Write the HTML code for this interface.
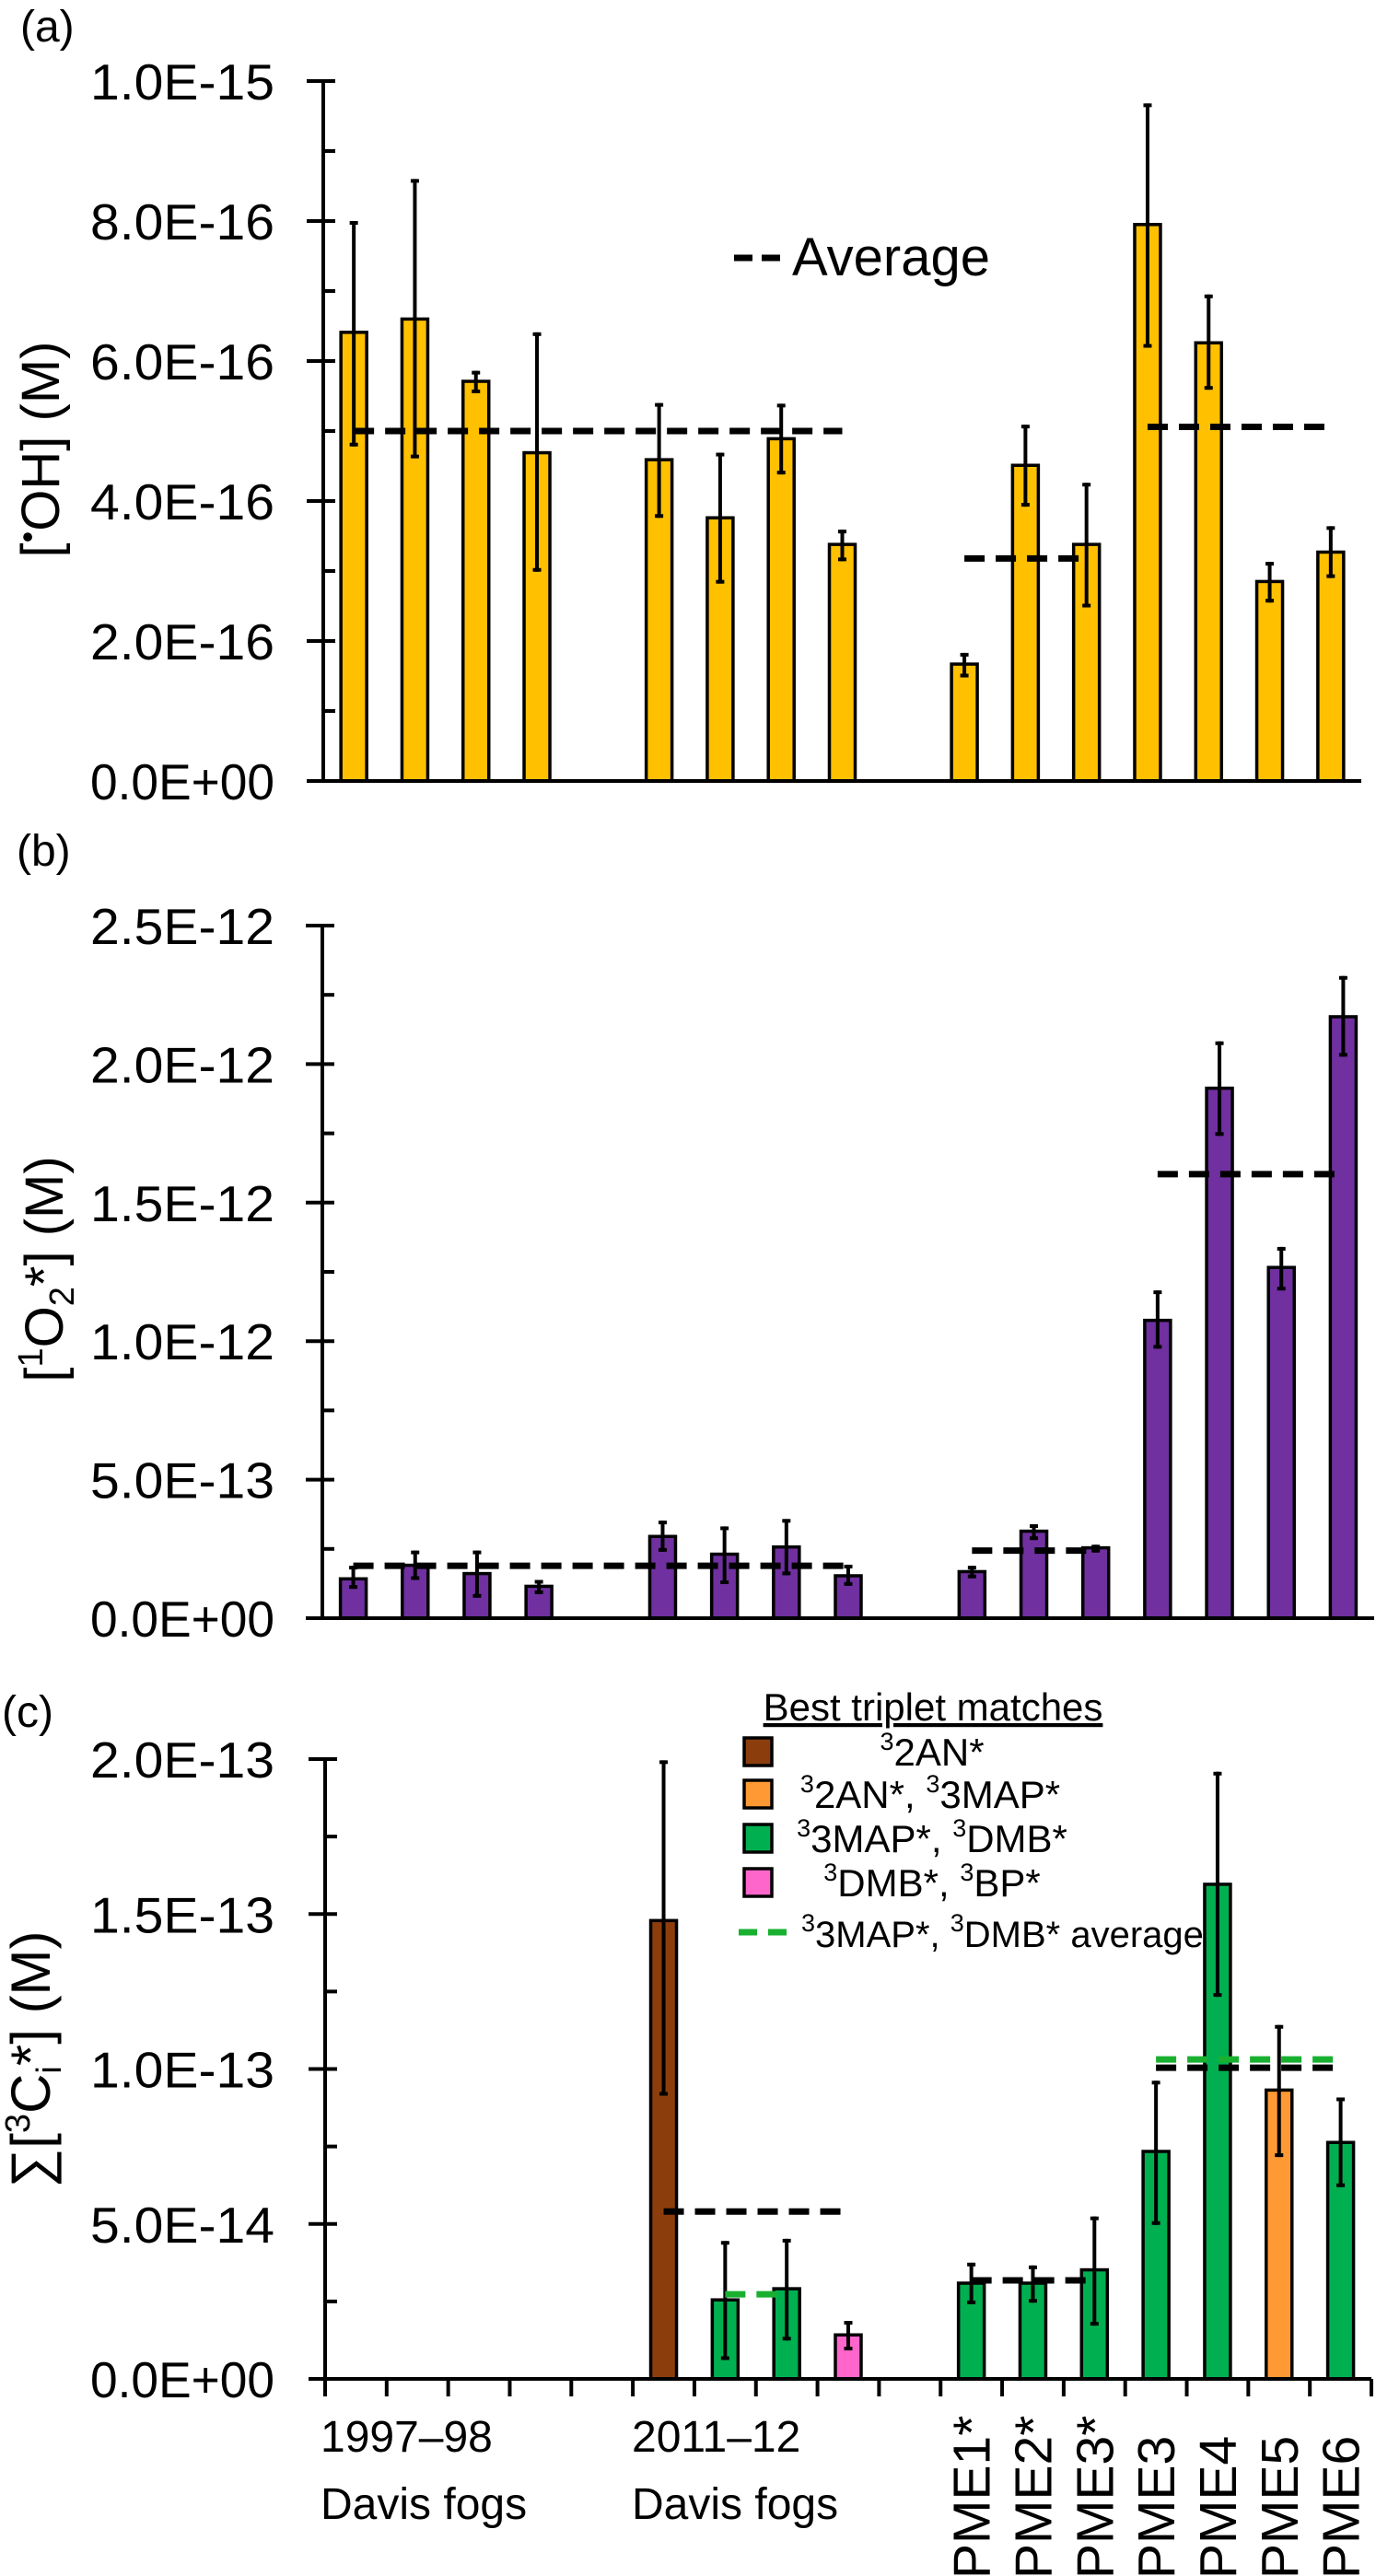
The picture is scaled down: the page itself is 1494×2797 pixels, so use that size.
<!DOCTYPE html>
<html><head><meta charset="utf-8"><style>
html,body{margin:0;padding:0;background:#fff;}
svg{display:block;font-family:"Liberation Sans",sans-serif;}
</style></head>
<body>
<svg id="chart" width="1494" height="2797" viewBox="0 0 1494 2797" xmlns="http://www.w3.org/2000/svg"></svg>
<script>
// ---- data ----
const slotsCount = 17;
const ohValues = [0.641,0.660,0.571,0.469,null,0.459,0.376,0.489,0.338,null,0.167,0.451,0.338,0.795,0.626,0.285,0.327];
const ohErrHi  = [0.800,0.860,0.586,0.641,null,0.540,0.469,0.539,0.359,null,0.183,0.509,0.426,0.968,0.695,0.313,0.364];
const ohErrLo  = [0.478,0.461,0.554,0.299,null,0.376,0.282,0.438,0.314,null,0.148,0.392,0.248,0.619,0.559,0.255,0.290];
const ohAvgSpans = [[0,8],[10,12],[13,16]];
const ohAvgValues = [0.500,0.318,0.506];
const ohTicks = ["0.0E+00","2.0E-16","4.0E-16","6.0E-16","8.0E-16","1.0E-15"];
const o2Values = [0.142,0.191,0.161,0.115,null,0.295,0.231,0.257,0.153,null,0.168,0.314,0.254,1.075,1.913,1.266,2.171];
const o2ErrHi  = [0.189,0.244,0.244,0.138,null,0.352,0.331,0.358,0.193,null,0.189,0.339,0.265,1.183,2.082,1.340,2.318];
const o2ErrLo  = [0.106,0.138,0.074,0.087,null,0.240,0.123,0.155,0.117,null,0.144,0.282,0.237,0.973,1.741,1.183,2.027];
const o2AvgSpans = [[0,8],[10,12],[13,16]];
const o2AvgValues = [0.189,0.244,1.603];
const o2Ticks = ["0.0E+00","5.0E-13","1.0E-12","1.5E-12","2.0E-12","2.5E-12"];
const tcValues = [null,null,null,null,null,1.479,0.255,0.291,0.142,null,0.309,0.309,0.352,0.734,1.596,0.932,0.763];
const tcErrHi  = [null,null,null,null,null,1.996,0.445,0.452,0.187,null,0.375,0.366,0.524,0.962,1.959,1.142,0.908];
const tcErrLo  = [null,null,null,null,null,0.914,0.061,0.124,0.092,null,0.241,0.246,0.172,0.497,1.233,0.716,0.619];
const tcClass  = [null,null,null,null,null,"2AN","3MAP","3MAP","DMB",null,"3MAP","3MAP","3MAP","3MAP","3MAP","2AN3MAP","3MAP"];
const tcAvgSpans = [[5,8],[10,12],[13,16]];
const tcAvgValues = [0.540,0.318,1.004];
const tcGreenAvgSpans = [[6,7],[13,16]];
const tcGreenAvgValues = [0.273,1.031];
const tcTicks = ["0.0E+00","5.0E-14","1.0E-13","1.5E-13","2.0E-13"];
const classColors = {"2AN":"#8B3E0C","2AN3MAP":"#FF9933","3MAP":"#00B050","DMB":"#FF66CC"};

const NS="http://www.w3.org/2000/svg";
const svg=document.getElementById('chart');
function mk(tag,attrs,parent){const e=document.createElementNS(NS,tag);for(const k in attrs)e.setAttribute(k,attrs[k]);(parent||svg).appendChild(e);return e;}

function panel(cfg){
  const g=mk('g',{});
  
  
  const sw=(cfg.x1-cfg.x0)/slotsCount;
  const xc=i=>cfg.x0+sw*(i+0.5);
  const y=v=>cfg.yb-(v/cfg.max)*(cfg.yb-cfg.yt);
  for(let i=0;i<slotsCount;i++){
    const v=cfg.values[i]; if(v==null)continue;
    const fill=cfg.colors?classColors[cfg.colors[i]]:cfg.fill;
    const r=mk('rect',{x:xc(i)-14,y:y(v),width:28,height:cfg.yb-y(v),fill:fill,stroke:'#000','stroke-width':3.5},g);
    
    
  }
  for(let i=0;i<slotsCount;i++){
    if(cfg.values[i]==null)continue;
    const eg=mk('g',{stroke:'#000','stroke-width':4},g);
    
    
    const x=xc(i),yh=y(cfg.hi[i]),yl=y(cfg.lo[i]);
    mk('line',{x1:x,x2:x,y1:yh,y2:yl},eg);
    mk('line',{x1:x-4.5,x2:x+4.5,y1:yh+2,y2:yh+2},eg);
    mk('line',{x1:x-4.5,x2:x+4.5,y1:yl-2,y2:yl-2},eg);
  }
  cfg.avgSpans.forEach((s,k)=>{
    const l=mk('line',{x1:xc(s[0]),x2:xc(s[1]),y1:y(cfg.avgValues[k]),y2:y(cfg.avgValues[k]),stroke:'#000','stroke-width':7,'stroke-dasharray':'22 12'},g);
    
    
  });
  if(cfg.greenSpans){cfg.greenSpans.forEach((s,k)=>{
    const l=mk('line',{x1:xc(s[0]),x2:xc(s[1]),y1:y(cfg.greenValues[k]),y2:y(cfg.greenValues[k]),stroke:'#19B030','stroke-width':7,'stroke-dasharray':'22 12'},g);
    
    
  });}
  const ax=mk('g',{stroke:'#000','stroke-width':4},g);
  
  
  mk('line',{x1:cfg.x0,x2:cfg.x0,y1:cfg.yt,y2:cfg.yb},ax);
  const nMaj=cfg.ticks.length-1;
  for(let k=0;k<=nMaj;k++){
    const v=cfg.max*k/nMaj, yy=y(v);
    mk('line',{x1:cfg.x0-18,x2:cfg.x0+13,y1:yy,y2:yy},ax);
    if(k<nMaj){const ym=y(v+cfg.max/nMaj/2);mk('line',{x1:cfg.x0,x2:cfg.x0+13,y1:ym,y2:ym},ax);}
    const t=mk('text',{x:298,y:yy+20,'text-anchor':'end','font-size':55,textLength:200,lengthAdjust:'spacingAndGlyphs',fill:'#000',stroke:'none'},g);
    t.textContent=cfg.ticks[k];
    
    
  }
  const xa=mk('line',{x1:cfg.x0-18,x2:cfg.x1,y1:cfg.yb,y2:cfg.yb,stroke:'#000','stroke-width':4},g);
  
  
  if(cfg.xticks){for(let i=0;i<=slotsCount;i++){mk('line',{x1:cfg.x0+sw*i,x2:cfg.x0+sw*i,y1:cfg.yb,y2:cfg.yb+19,stroke:'#000','stroke-width':4},g);}}
  return {xc};
}

panel({name:'panel-a-oh',key:'a',x0:351,x1:1478,yt:88,yb:848,max:1.0,values:ohValues,hi:ohErrHi,lo:ohErrLo,fill:'#FFC000',avgSpans:ohAvgSpans,avgValues:ohAvgValues,ticks:ohTicks});
panel({name:'panel-b-singlet-oxygen',key:'b',x0:350,x1:1492,yt:1005,yb:1757,max:2.5,values:o2Values,hi:o2ErrHi,lo:o2ErrLo,fill:'#7030A0',avgSpans:o2AvgSpans,avgValues:o2AvgValues,ticks:o2Ticks});
const pc=panel({name:'panel-c-triplets',key:'c',x0:353,x1:1489,yt:1910,yb:2583,max:2.0,values:tcValues,hi:tcErrHi,lo:tcErrLo,colors:tcClass,avgSpans:tcAvgSpans,avgValues:tcAvgValues,greenSpans:tcGreenAvgSpans,greenValues:tcGreenAvgValues,ticks:tcTicks,xticks:true});

const pmeLabels=["PME1*","PME2*","PME3*","PME3","PME4","PME5","PME6"];
pmeLabels.forEach((s,k)=>{
  const x=pc.xc(10+k)+20;
  const t=mk('text',{x:0,y:0,transform:`translate(${x},2800) rotate(-90)`,'font-size':57,fill:'#000'});
  t.textContent=s;
  
  
});
</script>
<script>
(function(){
const svg=document.getElementById('chart');
const extra=`
<text x="22" y="45" font-size="48">(a)</text>
<text x="18" y="940" font-size="48">(b)</text>
<text x="2" y="1875" font-size="48">(c)</text>
<text transform="translate(64,488) rotate(-90)" text-anchor="middle" font-size="58">[<tspan font-size="36" dy="-22">•</tspan><tspan dy="22">OH] (M)</tspan></text>
<text transform="translate(68,1378) rotate(-90)" text-anchor="middle" font-size="58">[<tspan font-size="38" dy="-22">1</tspan><tspan dy="22">O</tspan><tspan font-size="38" dy="12">2</tspan><tspan dy="-12">*] (M)</tspan></text>
<text transform="translate(54,2236) rotate(-90)" text-anchor="middle" font-size="60">∑[<tspan font-size="38" dy="-22">3</tspan><tspan dy="22">C</tspan><tspan font-size="38" dy="12">i</tspan><tspan dy="-12">*] (M)</tspan></text>
<g>
<line x1="797" x2="848" y1="280" y2="280" stroke="#000" stroke-width="7" stroke-dasharray="20 10"/>
<text x="860" y="299" font-size="58">Average</text>
</g>
<g font-size="42">
<text x="1013" y="1868" text-anchor="middle" text-decoration="underline" font-size="42">Best  triplet matches</text>
<rect x="808" y="1887" width="30" height="30" fill="#8B3E0C" stroke="#000" stroke-width="3.5"/>
<text x="1012" y="1917" text-anchor="middle"><tspan font-size="27" dy="-17">3</tspan><tspan dy="17">2AN*</tspan></text>
<rect x="808" y="1933" width="30" height="30" fill="#FF9933" stroke="#000" stroke-width="3.5"/>
<text x="1010" y="1963" text-anchor="middle"><tspan font-size="27" dy="-17">3</tspan><tspan dy="17">2AN*, </tspan><tspan font-size="27" dy="-17">3</tspan><tspan dy="17">3MAP*</tspan></text>
<rect x="808" y="1981" width="30" height="30" fill="#00B050" stroke="#000" stroke-width="3.5"/>
<text x="1012" y="2011" text-anchor="middle"><tspan font-size="27" dy="-17">3</tspan><tspan dy="17">3MAP*, </tspan><tspan font-size="27" dy="-17">3</tspan><tspan dy="17">DMB*</tspan></text>
<rect x="808" y="2029" width="30" height="30" fill="#FF66CC" stroke="#000" stroke-width="3.5"/>
<text x="1012" y="2059" text-anchor="middle"><tspan font-size="27" dy="-17">3</tspan><tspan dy="17">DMB*, </tspan><tspan font-size="27" dy="-17">3</tspan><tspan dy="17">BP*</tspan></text>
<line x1="802" x2="856" y1="2098" y2="2098" stroke="#19B030" stroke-width="7" stroke-dasharray="20 12"/>
<text x="870" y="2114" font-size="40"><tspan font-size="27" dy="-17">3</tspan><tspan dy="17">3MAP*, </tspan><tspan font-size="27" dy="-17">3</tspan><tspan dy="17">DMB* average</tspan></text>
</g>
<text x="348" y="2662" font-size="48">1997–98</text>
<text x="348" y="2735" font-size="48">Davis fogs</text>
<text x="686" y="2662" font-size="48">2011–12</text>
<text x="686" y="2735" font-size="48">Davis fogs</text>`;
svg.insertAdjacentHTML('beforeend',extra);
})();
</script>
</body></html>
